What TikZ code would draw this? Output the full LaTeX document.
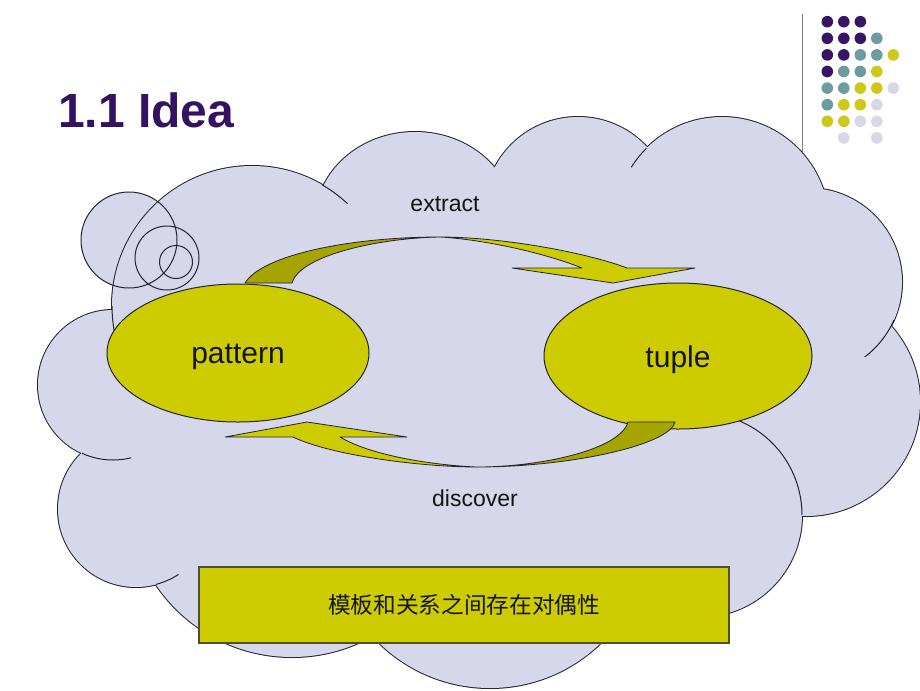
\documentclass[tikz,border=0pt]{standalone}
\usepackage{fontspec}
\setmainfont{Liberation Sans}
\newfontfamily\cjk{Noto Sans CJK SC}
\usetikzlibrary{shapes.geometric}
\definecolor{lav}{RGB}{214,215,234}
\definecolor{olive}{RGB}{205,204,0}
\definecolor{oliveback}{RGB}{166,165,0}
\definecolor{edge}{RGB}{35,35,50}
\definecolor{titlepurple}{RGB}{52,17,98}
\definecolor{dotP}{RGB}{55,20,100}
\definecolor{dotT}{RGB}{110,155,160}
\definecolor{dotY}{RGB}{205,200,25}
\definecolor{dotL}{RGB}{215,215,232}
\definecolor{boxedge}{RGB}{80,80,40}
\definecolor{txt}{RGB}{20,20,20}
\begin{document}
\begin{tikzpicture}[x=0.75pt,y=-0.75pt,
  cloudline/.style={draw=edge, line width=0.75pt},
  bubble/.style={draw=edge, line width=0.75pt},
  blob/.style={ellipse, draw=edge, line width=0.75pt, fill=olive, inner sep=0pt},
  blobtext/.style={text=txt, font=\fontsize{22.5}{26}\selectfont, inner sep=0pt},
  lbl/.style={text=txt, font=\fontsize{17.25}{20}\selectfont, inner sep=0pt},
  front/.style={fill=olive, draw=edge, line width=0.6pt, line join=round},
  back/.style={fill=oliveback, draw=edge, line width=0.6pt, line join=round},
  notebox/.style={rectangle, draw=boxedge, line width=0.9pt, fill=olive,
               minimum width=397.5pt, minimum height=57pt, inner sep=0pt,
               text=txt, font=\cjk\fontsize{17}{20}\selectfont}]
\fill[white] (0,0) rectangle (920,690);
\useasboundingbox (0,0) rectangle (920,690);

% top right decoration
\draw[gray, line width=0.75pt] (802,14) -- (802,165);
\foreach \c/\r/\col in {0/0/dotP,1/0/dotP,2/0/dotP,
  0/1/dotP,1/1/dotP,2/1/dotP,3/1/dotT,
  0/2/dotP,1/2/dotP,2/2/dotT,3/2/dotT,4/2/dotY,
  0/3/dotP,1/3/dotT,2/3/dotT,3/3/dotY,
  0/4/dotT,1/4/dotT,2/4/dotY,3/4/dotY,4/4/dotL,
  0/5/dotT,1/5/dotY,2/5/dotY,3/5/dotL,
  0/6/dotY,1/6/dotY,2/6/dotL,3/6/dotL,
  1/7/dotL,3/7/dotL}
  \fill[\col] ({827.3+16.5*\c},{21.7+16.6*\r}) circle[radius=5.8];

% title
\node[anchor=base west, inner sep=0pt, text=titlepurple,
      font=\bfseries\fontsize{36}{40}\selectfont] (title) at (58,127) {1.1 Idea};

% callout bubbles (fill)
\fill[lav] (129,240) circle[radius=48];
\fill[lav] (167,258) circle[radius=32];
\fill[lav] (176,262) circle[radius=16.5];

% cloud: thick outline then fill (union outline remains)
\foreach \cx/\cy/\rx/\ry in {252/306/140/140, 415/222/100/90, 578/211/94/94,
   722/224/107/107, 808/282/94/94, 806/402/114/114, 700/515/102/102,
   490/529/159/159, 292/493/164/164, 136/509/78/78, 113/385/75/75}
  \draw[edge, line width=1.5pt] (\cx,\cy) ellipse[x radius=\rx, y radius=\ry];
\foreach \cx/\cy/\rx/\ry in {252/306/140/140, 415/222/100/90, 578/211/94/94,
   722/224/107/107, 808/282/94/94, 806/402/114/114, 700/515/102/102,
   490/529/159/159, 292/493/164/164, 136/509/78/78, 113/385/75/75, 480/390/330/200}
  \fill[lav] (\cx,\cy) ellipse[x radius=\rx, y radius=\ry];

% bubble outlines
\draw[bubble] (129,240) circle[radius=48];
\draw[bubble] (167,258) circle[radius=32];
\draw[bubble] (176,262) circle[radius=16.5];

% inner arc stubs of the cloud
\draw[cloudline] plot[domain=180:168, samples=10] ({252+140*cos(\x)},{306+140*sin(\x)});
\draw[cloudline] plot[domain=-60:-47, samples=10] ({252+140*cos(\x)},{306+140*sin(\x)});
\draw[cloudline] plot[domain=-135:-148, samples=10] ({722+107*cos(\x)},{224+107*sin(\x)});
\draw[cloudline] plot[domain=24:53, samples=15] ({808+94*cos(\x)},{282+94*sin(\x)});
\draw[cloudline] plot[domain=-80:0, samples=25] ({700+102*cos(\x)},{515+102*sin(\x)});
\draw[cloudline] plot[domain=75:57, samples=10] ({136+78*cos(\x)},{509+78*sin(\x)});
\draw[cloudline] plot[domain=114.5:76, samples=15] ({113+75*cos(\x)},{385+75*sin(\x)});

% main ellipses
\node[blob, minimum width=196.5pt, minimum height=103.5pt] (pattern) at (238,353) {};
\node[blob, minimum width=201pt, minimum height=109.5pt] (tuple) at (678,356) {};
\node[blobtext] (patterntext) at (238,357) {pattern};
\node[blobtext] (tupletext) at (678,360) {tuple};

% upper curved arrow (extract)
\coordinate (ut) at (440,237);
\path[back] (245,283) .. controls (262,255) and (350,237) .. (ut)
   .. controls (380,238) and (300,255) .. (292,283) -- cycle;
\path[front] (ut) .. controls (500,237) and (585,252) .. (627,268)
   -- (695,268) -- (613,283) -- (512,268) -- (582,268)
   .. controls (550,255) and (490,240) .. (ut) -- cycle;

% lower curved arrow (discover)
\coordinate (lb) at (477,467);
\path[back] (675,422) .. controls (670,445) and (570,467) .. (lb)
   .. controls (540,467) and (620,450) .. (628,422) -- cycle;
\path[front] (lb) .. controls (420,467) and (330,455) .. (293,437)
   -- (225,437) -- (307,422) -- (407,437) -- (340,437)
   .. controls (370,455) and (430,465) .. (lb) -- cycle;

% labels
\node[lbl] (extract) at (445,204) {extract};
\node[lbl] (discover) at (475,498) {discover};

% note box
\node[notebox] (note) at (464,605) {模板和关系之间存在对偶性};
\end{tikzpicture}
\end{document}
